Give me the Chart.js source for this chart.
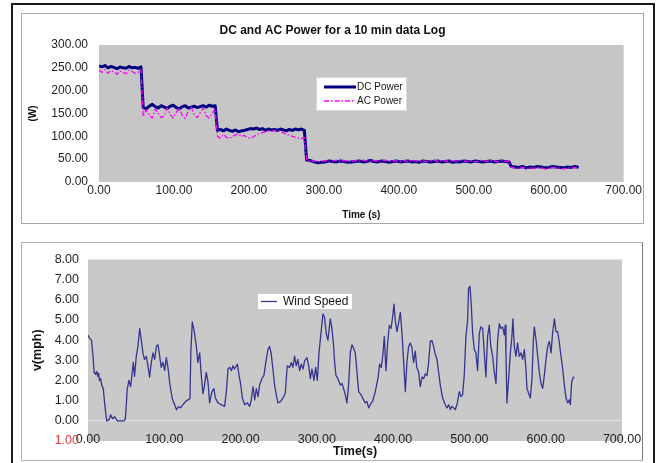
<!DOCTYPE html>
<html><head><meta charset="utf-8">
<script src="https://cdn.jsdelivr.net/npm/chart.js@4.4.1/dist/chart.umd.min.js"></script>
<style>
html,body{margin:0;padding:0;background:#fff;}
body{width:657px;height:463px;position:relative;overflow:hidden;}
#outer{position:absolute;left:11px;top:3px;width:640px;height:520px;border:2px solid #1c1c1c;}
#frame1{position:absolute;left:21px;top:13px;width:621px;height:209px;border:1px solid #a8a8a8;}
#frame2{position:absolute;left:21px;top:242px;width:620px;height:217px;border:1px solid #b4b4b4;border-right-color:#7a7a7a;}
#c1{position:absolute;left:22px;top:14px;width:621px;height:209px;}
#c2{position:absolute;left:22px;top:243px;width:620px;height:217px;}
</style></head>
<body>
<div id="outer"></div><div id="frame1"></div><div id="frame2"></div>
<canvas id="c1" width="621" height="209"></canvas>
<canvas id="c2" width="620" height="217"></canvas>
<script>
// ---------- DATA: DC / AC power (top chart) ----------
const powerTime = [
  0,4,8,12,16,20,24,28,32,36,40,44,48,52,56,
  59,63,67,71,75,79,83,87,91,95,99,103,107,111,115,119,123,127,131,135,139,143,147,151,155,
  158,162,166,170,174,178,182,186,190,194,198,202,206,210,214,218,222,226,230,234,238,242,246,250,254,258,262,266,270,274,
  277,282,287,292,297,302,307,312,317,322,327,332,337,342,347,352,357,362,367,372,377,382,387,392,397,402,407,412,417,422,427,432,437,442,447,452,457,462,467,472,477,482,487,492,497,502,507,512,517,522,527,532,537,542,547,
  550,555,560,565,570,575,580,585,590,595,600,605,610,615,620,625,630,635,640
];
const dcPower = [
  254,252,255,250,253,251,248,252,250,249,253,250,251,249,252,
  163,160,166,170,165,162,167,164,161,166,168,163,160,165,167,162,164,166,163,165,167,164,168,166,167,
  113,115,112,116,113,111,114,110,112,113,115,117,116,118,115,117,113,116,114,115,113,116,114,112,115,113,116,114,116,113,
  48,47,44,42,43,44,46,45,44,46,45,43,44,45,46,44,45,47,45,44,46,45,43,45,46,44,45,46,44,45,43,46,45,44,45,46,44,45,46,43,45,44,46,45,44,46,45,44,45,46,44,45,46,45,44,
  34,33,32,34,31,33,32,34,33,31,32,34,33,32,31,33,32,34,32
];
const acPower = [
  245,240,246,238,244,241,236,243,240,237,245,242,238,240,246,
  143,158,146,140,160,150,141,145,162,148,140,152,163,146,139,155,164,147,141,152,162,145,140,150,160,
  100,96,104,98,95,100,103,105,100,102,97,95,99,103,106,108,110,112,111,113,112,110,108,104,103,100,98,96,95,97,
  47,46,46,44,45,47,44,46,48,45,47,46,44,47,45,48,46,45,47,44,46,48,45,47,46,44,47,45,48,46,45,47,44,46,48,45,47,46,44,47,45,48,46,45,47,44,46,48,45,47,46,44,47,45,46,
  32,31,30,32,29,31,30,32,31,29,30,32,31,30,29,31,30,32,30
];
const powerXTicks = [0,100,200,300,400,500,600,700];
const powerXLabels = ['0.00','100.00','200.00','300.00','400.00','500.00','600.00','700.00'];
const powerYTicks = [0,50,100,150,200,250,300];
const powerYLabels = ['0.00','50.00','100.00','150.00','200.00','250.00','300.00'];

// ---------- DATA: wind speed (bottom chart) ----------
const windTime = [
  0,2,4.6,6.6,8,9,10,11.5,13,14,
  15,16.5,18,20,22,24.5,27.5,29.7,32,35,
  38.4,47,49,51.5,53.7,55.9,58,59.4,61,63.3,
  65.5,67.7,69.9,72,74,76.5,78.6,80.7,83,85.2,
  87.4,89.6,91.8,94,96,98.3,100.5,102.7,104.8,107.5,
  110.5,113.6,116,118.4,121.4,124.5,128,131,133.7,134.8,
  136.7,139,142,144,146.4,148.6,150.7,152.9,155,157.3,
  159.4,162.5,165,167,170.4,174.7,179,181.4,183.5,185.7,
  188,190,192,195.8,198,200,202.3,205.3,208.8,212,
  214,216.3,218.5,220.6,222.8,225,228,230.6,233.7,235.9,
  238,240,242.4,244.6,246.8,249,252.5,255.6,258.6,261.2,
  264.3,266.5,268.6,270.8,273,275,277.4,279.6,281.8,284,
  287,289.3,291.5,293.6,296.2,298.4,300.6,302.8,305.8,308,
  310,312.3,314.5,317.6,319.7,322,323.3,325,327.6,330.7,
  332.9,335,337.3,339.4,341.6,343.8,346,348,350.4,352.6,
  354.8,358,361.3,363.5,365.6,367.9,370,373,376.6,380,
  382.3,384.5,386.6,388.4,390.6,392.8,395,397.2,399.3,401.1,
  402.8,405,407,409.4,411.6,413.8,416,418,420.3,422.5,
  424.7,426.8,429,431,433.4,435.6,437.8,440,442,444.4,
  446.5,448.7,450.9,453,455.3,457.5,459.6,461.8,464.9,468.4,
  470.6,472.8,475,477,479.3,481.5,484,486.7,488.8,491,
  493.2,495.4,497.6,498.9,500.7,502.4,504.2,506.4,508.5,510.7,
  513,515,517.3,519.5,521.6,523.8,526,528,530.4,532.6,
  534.8,537,539.2,541.3,543.5,545.7,547,547.9,549.2,551.4,
  553.6,555.7,557,558.8,561,563,565.4,567.6,569.8,572,
  574.1,575.4,577.6,579.8,582,583.8,585.1,587.3,589.5,591.6,
  593.8,596,598.2,600.4,602.5,604.7,607,609,611.4,613.5,
  615.7,617.9,620,622.3,624.4,626.6,628.8,631,632.3,634,
  636.3,637.6
];
const windSpeed = [
  4.25,4.1,4.0,3.2,2.4,2.35,2.3,2.45,2.2,2.35,
  2.0,2.1,1.77,1.6,0.8,0,0.05,0.3,0.1,0.2,
  0,0,0.1,1.6,2.0,1.7,2.4,2.9,2.2,3.2,
  3.7,4.58,4.0,3.37,3.05,3.2,2.73,2.17,2.9,3.37,
  3.05,3.7,3.77,3.2,2.65,2.9,2.5,3.13,2.65,1.77,
  1.1,0.8,0.55,0.7,0.65,0.8,0.96,1.04,1.1,3.4,
  4.9,4.5,3.7,2.9,3.37,2.2,1.35,1.8,2.4,1.93,
  0.89,1.45,1.6,1.13,0.89,0.8,0.72,1.45,2.57,2.65,
  2.49,2.73,2.57,2.81,2.25,1.85,1.13,0.8,0.89,0.72,
  1.04,1.69,1.04,1.6,1.2,1.77,2.1,2.25,3.05,3.53,
  3.69,3.37,2.57,1.77,1.29,0.89,0.96,1.13,1.37,2.73,
  2.65,2.89,2.65,3.21,2.73,3.05,2.49,2.81,2.57,2.97,
  3.13,2.73,2.09,2.57,2.01,2.65,2.01,3.37,4.5,5.3,
  5.14,4.34,4.0,5.06,4.6,3.7,2.9,2.25,2.09,1.77,
  1.85,1.6,1.29,0.89,1.77,3.37,3.77,3.61,3.37,2.41,
  1.45,1.29,1.04,0.89,0.96,0.64,0.8,0.96,1.45,2.09,
  2.81,2.65,3.29,4.18,2.49,3.86,4.74,4.58,5.14,5.78,
  4.98,4.42,4.82,5.38,4.34,2.89,1.45,2.89,3.69,3.86,
  3.61,2.89,3.45,2.65,2.41,1.69,2.17,2.09,2.33,2.25,
  2.89,3.94,3.98,3.69,3.29,3.05,2.41,1.77,1.13,0.8,
  0.64,0.8,0.56,0.72,0.64,0.56,0.85,1.45,1.2,1.29,
  2.25,4.18,4.98,6.58,6.66,5.78,4.34,3.53,3.37,2.49,
  4.34,4.66,4.58,3.37,2.17,4.18,4.74,3.7,3.2,2.41,
  1.85,4.02,4.82,4.58,4.66,4.26,4.74,3.37,0.89,2.09,
  3.37,4.18,5.06,3.69,3.2,3.86,3.2,3.37,3.05,3.53,
  2.57,1.61,1.37,1.13,2.09,4.02,4.66,4.02,3.21,2.41,
  1.85,1.61,2.25,3.05,3.69,3.94,3.37,4.34,5.06,4.42,
  4.42,3.86,3.21,2.57,1.77,1.13,0.89,1.04,0.8,1.93,
  2.17,2.17
];
const windXTicks = [0,100,200,300,400,500,600,700];
const windXLabels = ['0.00','100.00','200.00','300.00','400.00','500.00','600.00','700.00'];
const windYTicks = [-1,0,1,2,3,4,5,6,7,8];
const windYLabels = ['1.00','0.00','1.00','2.00','3.00','4.00','5.00','6.00','7.00','8.00'];

// ---------- drawing ----------
const FF = "'Liberation Sans', Arial, sans-serif";
const toPts = (xs, ys) => xs.map((x, i) => ({x: x, y: ys[i]}));

const plotBg = {
  id: 'plotBg',
  beforeDraw(chart, args, o) {
    const {ctx, chartArea: a} = chart;
    ctx.save();
    ctx.fillStyle = '#fff';
    ctx.fillRect(0, 0, chart.width, chart.height);
    ctx.fillStyle = o.color;
    ctx.fillRect(a.left, a.top, a.right - a.left, a.bottom - a.top);
    ctx.restore();
  }
};
const boxLegend = {
  id: 'boxLegend',
  afterDraw(chart, args, o) {
    const ctx = chart.ctx;
    ctx.save();
    ctx.fillStyle = '#fff';
    ctx.fillRect(o.x, o.y, o.w, o.h);
    if (o.border) { ctx.strokeStyle = o.border; ctx.lineWidth = 1; ctx.strokeRect(o.x + 0.5, o.y + 0.5, o.w - 1, o.h - 1); }
    o.items.forEach((dsIndex, i) => {
      const ds = chart.data.datasets[dsIndex];
      const y = o.y + o.rowTop + i * o.rowH;
      ctx.beginPath();
      ctx.setLineDash(ds.borderDash || []);
      ctx.strokeStyle = ds.borderColor;
      ctx.lineWidth = ds.borderWidth;
      ctx.moveTo(o.x + o.lineX0, y);
      ctx.lineTo(o.x + o.lineX1, y);
      ctx.stroke();
      ctx.setLineDash([]);
      ctx.fillStyle = '#151515';
      ctx.font = o.font;
      ctx.textBaseline = 'middle';
      ctx.textAlign = 'left';
      ctx.fillText(ds.label, o.x + o.textX, y + 0.5);
    });
    ctx.restore();
  }
};

new Chart(document.getElementById('c1'), {
  type: 'line',
  data: {
    datasets: [
      {label: 'DC Power', data: toPts(powerTime, dcPower), borderColor: '#000080', borderWidth: 3, order: 2},
      {label: 'AC Power', data: toPts(powerTime, acPower), borderColor: '#ff00ff', borderWidth: 1.3, borderDash: [5, 2, 1.5, 2], order: 1}
    ]
  },
  options: {
    responsive: false, animation: false,
    elements: {point: {radius: 0}, line: {tension: 0, borderJoinStyle: 'round'}},
    layout: {padding: {left: 0, right: 0, top: 0, bottom: 0}},
    scales: {
      x: {
        type: 'linear', min: 0, max: 700,
        afterBuildTicks: s => { s.ticks = powerXTicks.map(v => ({value: v})); },
        afterFit: s => { s.height = 41; },
        grid: {display: false, drawTicks: false}, border: {display: false},
        ticks: {font: {family: FF, size: 12}, color: '#1e1e1e', padding: 1, maxRotation: 0, autoSkip: false,
                callback: (v, i) => powerXLabels[i]},
        title: {display: true, text: 'Time (s)', font: {family: FF, size: 10, weight: 'bold'}, color: '#111', padding: {top: 0, bottom: 2}}
      },
      y: {
        type: 'linear', min: 0, max: 300,
        afterBuildTicks: s => { s.ticks = powerYTicks.map(v => ({value: v})); },
        afterFit: s => { s.width = 77; },
        grid: {display: false, drawTicks: false}, border: {display: false},
        ticks: {font: {family: FF, size: 12}, color: '#1e1e1e', padding: 11, autoSkip: false,
                callback: (v, i) => powerYLabels[i]},
        title: {display: true, text: '(W)', font: {family: FF, size: 10, weight: 'bold'}, color: '#111', padding: {top: 5, bottom: 0}}
      }
    },
    plugins: {
      legend: {display: false}, tooltip: {enabled: false},
      title: {display: true, text: 'DC and AC Power for a 10 min data Log', font: {family: FF, size: 12, weight: 'bold'}, color: '#111', padding: {top: 9, bottom: 7.6}},
      plotBg: {color: '#c6c6c6'},
      boxLegend: {x: 294, y: 63, w: 91, h: 34, border: '#d8d8d8', items: [0, 1], rowTop: 10, rowH: 14, lineX0: 8, lineX1: 40, textX: 41, font: '10px ' + FF}
    }
  },
  plugins: [plotBg, boxLegend]
});

new Chart(document.getElementById('c2'), {
  type: 'line',
  data: {
    datasets: [
      {label: 'Wind Speed', data: toPts(windTime, windSpeed), borderColor: '#35358f', borderWidth: 1.3}
    ]
  },
  options: {
    responsive: false, animation: false,
    elements: {point: {radius: 0}, line: {tension: 0, borderJoinStyle: 'round'}},
    layout: {padding: {left: 0, right: 20, top: 11, bottom: 0}},
    scales: {
      x: {
        type: 'linear', min: 0, max: 700,
        afterBuildTicks: s => { s.ticks = windXTicks.map(v => ({value: v})); },
        afterFit: s => { s.height = 19; },
        grid: {display: false, drawTicks: false}, border: {display: false},
        ticks: {font: {family: FF, size: 12.5}, color: '#1e1e1e', mirror: true, padding: -6.5, maxRotation: 0, autoSkip: false,
                callback: (v, i) => windXLabels[i]},
        title: {display: true, text: 'Time(s)', font: {family: FF, size: 12.5, weight: 'bold'}, color: '#111', padding: {top: 0, bottom: 0.5}}
      },
      y: {
        type: 'linear', min: -1, max: 8,
        afterBuildTicks: s => { s.ticks = windYTicks.map(v => ({value: v})); },
        afterFit: s => { s.width = 66; },
        grid: {drawTicks: false, color: c => (c.tick && c.tick.value === 0) ? 'rgba(228,228,228,0.9)' : 'rgba(0,0,0,0)', lineWidth: 1},
        border: {display: false},
        ticks: {font: {family: FF, size: 12.5}, padding: 9, autoSkip: false,
                color: c => (c.tick && c.tick.value === -1) ? '#e03a3a' : '#1e1e1e',
                callback: (v, i) => windYLabels[i]},
        title: {display: true, text: 'v(mph)', font: {family: FF, size: 12.5, weight: 'bold'}, color: '#111', padding: {top: 8.5, bottom: 0}}
      }
    },
    plugins: {
      legend: {display: false}, tooltip: {enabled: false},
      plotBg: {color: '#c9c9c9'},
      boxLegend: {x: 236, y: 51, w: 94, h: 15, border: null, items: [0], rowTop: 7.5, rowH: 14, lineX0: 3, lineX1: 19, textX: 25, font: '12px ' + FF}
    }
  },
  plugins: [plotBg, boxLegend]
});
</script>
</body></html>
